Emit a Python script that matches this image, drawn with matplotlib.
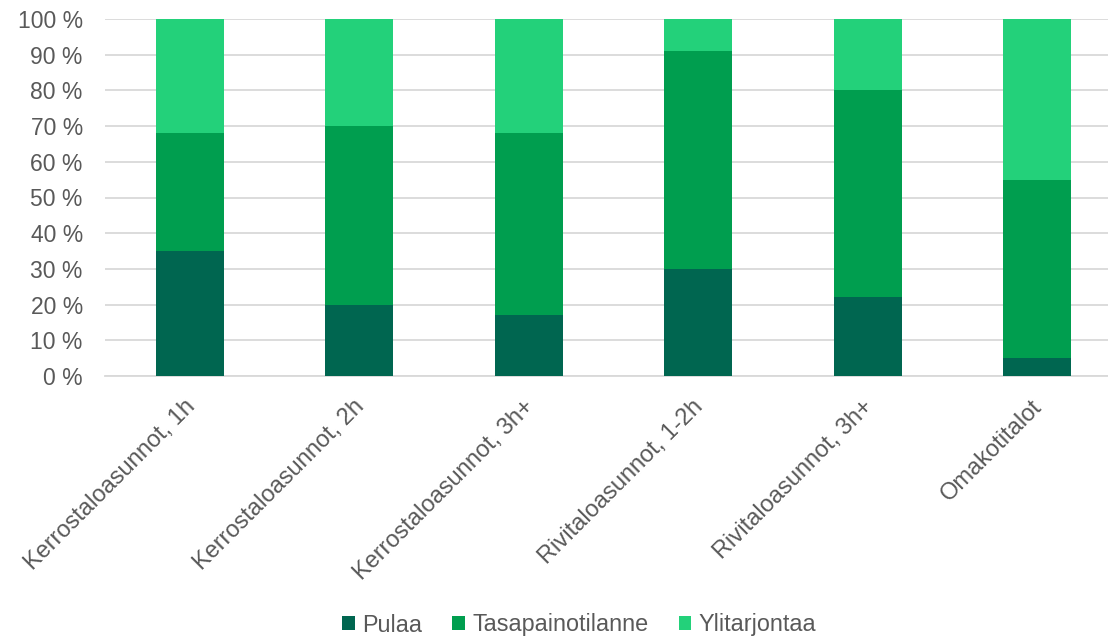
import matplotlib.pyplot as plt
import matplotlib.transforms as mtransforms
import numpy as np

categories = ["Kerrostaloasunnot, 1h", "Kerrostaloasunnot, 2h", "Kerrostaloasunnot, 3h+",
              "Rivitaloasunnot, 1-2h", "Rivitaloasunnot, 3h+", "Omakotitalot"]
pulaa = [35, 20, 17, 30, 22, 5]
tasapaino = [33, 50, 51, 61, 58, 50]
ylitarjonta = [32, 30, 32, 9, 20, 45]
series_names = ["Pulaa", "Tasapainotilanne", "Ylitarjontaa"]
colors = ["#006650", "#009E4F", "#23D17A"]
yticks = list(range(0, 101, 10))

plt.rcParams['font.family'] = ['Liberation Sans', 'DejaVu Sans']
FS = 16.5
TXT = "#595959"

fig = plt.figure(figsize=(11.08, 6.38), dpi=100)
# axes spans x 105..1122 px, y 19..376 px
ax = fig.add_axes([105 / 1108, 1 - 376 / 638, (1122 - 105) / 1108, (376 - 19) / 638])

x = np.arange(len(categories))
bottom = np.zeros(len(categories))
for name, vals, c in zip(series_names, [pulaa, tasapaino, ylitarjonta], colors):
    ax.bar(x, vals, width=0.4, bottom=bottom, color=c, label=name, zorder=3)
    bottom += np.array(vals)

ax.set_xlim(-0.5, len(categories) - 0.5)
ax.set_ylim(0, 100)
ax.set_yticks(yticks)
ax.set_yticklabels([f"{v} %" for v in yticks], fontsize=FS, color=TXT)
ax.yaxis.grid(True, color="#D9D9D9", linewidth=1.3, zorder=0)
ax.set_axisbelow(True)
for s in ["top", "right", "left"]:
    ax.spines[s].set_visible(False)
ax.spines["bottom"].set_color("#D9D9D9")
ax.spines["bottom"].set_linewidth(1.3)
ax.tick_params(axis="y", length=0, pad=16)
ax.tick_params(axis="x", length=0, pad=14)
ax.set_xticks(x)
ax.set_xticklabels(categories, rotation=45, ha="right", rotation_mode="anchor",
                   fontsize=17, color=TXT)
shift = mtransforms.ScaledTranslation(-6 / 100, 0, fig.dpi_scale_trans)
for lbl in ax.get_xticklabels():
    lbl.set_transform(lbl.get_transform() + shift)

handles, labels = ax.get_legend_handles_labels()
fig.legend(handles, labels, loc="center", bbox_to_anchor=(579 / 1108, 1 - 625 / 638),
           ncol=3, frameon=False, fontsize=16.8, labelcolor=TXT,
           handlelength=0.55, handleheight=0.55, handletextpad=0.3, columnspacing=1.3)

fig.savefig("out.png", dpi=100)
